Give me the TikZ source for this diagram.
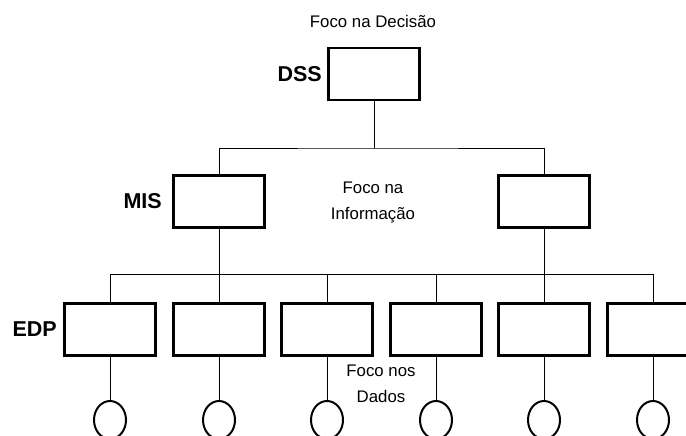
\documentclass[tikz,border=0pt]{standalone}
\usepackage{fontspec}
\setmainfont{Liberation Sans}
\usetikzlibrary{shapes.geometric}
\begin{document}
\begin{tikzpicture}[x=1pt,y=-1pt,
  unit/.style={draw, line width=2.8pt, minimum width=91pt, minimum height=52pt, inner sep=0pt},
  store/.style={draw, ellipse, line width=2pt, minimum width=32pt, minimum height=38pt, inner sep=0pt},
  level/.style={font=\fontsize{21.5}{24}\selectfont\bfseries, anchor=east, inner sep=0pt},
  focus/.style={font=\fontsize{16.8}{26}\selectfont, align=center, inner sep=0pt},
  link/.style={line width=0.9pt}]
\useasboundingbox (0,0) rectangle (686,436);
\clip (0,0) rectangle (686,436);

% decision level
\node[unit] (dss) at (374,74) {};
\node[level] (dsslabel) at (322,74) {DSS};
\node[focus] (fdec) at (373,21) {Foco na Decisão};

% information level
\node[unit] (mis) at (219,201.5) {};
\node[unit] (mis2) at (544,201.5) {};
\node[level] (mislabel) at (162,201.5) {MIS};
\node[focus] (finf) at (373,202) {Foco na\\Informação};

% data level: processing units and their stores
\foreach \i/\x in {1/110,2/219,3/327,4/436,5/544,6/653} {
  \node[unit] (e\i) at (\x,329.5) {};
  \node[store] (c\i) at (\x,420) {};
  \draw[link] (e\i.south) -- (c\i.north);
}
\node[level] (edplabel) at (57,329.5) {EDP};
\node[focus] (fdad) at (381,384) {Foco nos\\Dados};

% hierarchy connectors
\coordinate (bus1) at (374,148);
\draw[link] (dss.south) -- (bus1);
\draw[link] (mis.north) |- (bus1) -| (mis2.north);
\draw[link] (e1.north) -- ++(0,-28) -| (e6.north);
\draw[link] (mis.south) -- (e2.north);
\draw[link] (mis2.south) -- (e5.north);
\draw[link] (e3.north) -- ++(0,-28);
\draw[link] (e4.north) -- ++(0,-28);
\end{tikzpicture}
\end{document}
